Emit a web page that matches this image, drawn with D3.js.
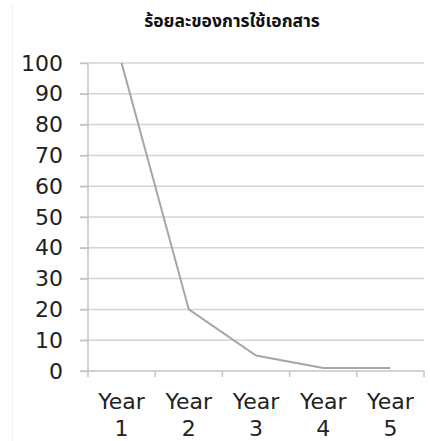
<!DOCTYPE html>
<html>
<head>
<meta charset="utf-8">
<script src="https://cdn.jsdelivr.net/npm/d3@7"></script>
<style>
  body { margin: 0; background: #fff; }
  text { font-family: "DejaVu Sans", Verdana, sans-serif; fill: #222; }
</style>
</head>
<body>
<svg id="chart" width="430" height="441"></svg>
<script>
var title = "ร้อยละของการใช้เอกสาร";
var years = ["Year 1", "Year 2", "Year 3", "Year 4", "Year 5"];
var usage = [100, 20, 5, 1, 1];
var yTicks = [0, 10, 20, 30, 40, 50, 60, 70, 80, 90, 100];

var svg = d3.select("#chart"),
    margin = {top: 63, right: 6, bottom: 70, left: 88},
    width = +svg.attr("width") - margin.left - margin.right,
    height = +svg.attr("height") - margin.top - margin.bottom;

// faint outer border of the chart area
svg.append("line")
    .attr("x1", 12.5).attr("x2", 12.5)
    .attr("y1", 5).attr("y2", 441)
    .attr("stroke", "#f0f0f0");

var x = d3.scaleBand().domain(years).range([0, width]).padding(0),
    y = d3.scaleLinear().domain([0, 100]).range([height, 0]);

var g = svg.append("g")
    .attr("transform", "translate(" + margin.left + "," + margin.top + ")");

// gridlines (with the little tick stubs left of the axis)
g.append("g").selectAll("line")
    .data(yTicks.filter(function(d) { return d > 0; }))
    .enter().append("line")
    .attr("x1", -8).attr("x2", width)
    .attr("y1", function(d) { return y(d); })
    .attr("y2", function(d) { return y(d); })
    .attr("stroke", "#d4d4d4")
    .attr("stroke-width", 1.5);

// y axis
var yAxis = d3.axisLeft(y).tickValues(yTicks).tickSize(8).tickPadding(17);
var ya = g.append("g").attr("class", "axis axis--y").call(yAxis);
ya.select(".domain").remove();
ya.selectAll(".tick line").attr("stroke", "#c4c4c4").attr("stroke-width", 1.5);
ya.selectAll("text").style("font-size", "22px").attr("fill", "#222");
g.append("line")
    .attr("x1", 0).attr("x2", 0).attr("y1", 0).attr("y2", height)
    .attr("stroke", "#c4c4c4").attr("stroke-width", 1.5);

// x axis baseline + boundary ticks
g.append("line")
    .attr("x1", -8).attr("x2", width)
    .attr("y1", height).attr("y2", height)
    .attr("stroke", "#c4c4c4").attr("stroke-width", 1.5);
var bounds = years.map(function(d) { return x(d); }).concat([width]);
g.append("g").selectAll("line")
    .data(bounds)
    .enter().append("line")
    .attr("x1", function(d) { return d; }).attr("x2", function(d) { return d; })
    .attr("y1", height).attr("y2", height + 6)
    .attr("stroke", "#c4c4c4").attr("stroke-width", 1.5);

// x labels on two lines
var xl = g.append("g").selectAll("text")
    .data(years)
    .enter().append("text")
    .attr("text-anchor", "middle")
    .attr("transform", function(d) { return "translate(" + (x(d) + x.bandwidth() / 2) + "," + (height + 38) + ")"; })
    .style("font-size", "22px");
xl.append("tspan").attr("x", 0).attr("y", 0).text(function(d) { return d.split(" ")[0]; });
xl.append("tspan").attr("x", 0).attr("y", 27).text(function(d) { return d.split(" ")[1]; });

// line
var line = d3.line()
    .x(function(d, i) { return x(years[i]) + x.bandwidth() / 2; })
    .y(function(d) { return y(d); });

g.append("path")
    .datum(usage)
    .attr("class", "line")
    .attr("fill", "none")
    .attr("stroke", "#a6a6a6")
    .attr("stroke-width", 2)
    .attr("d", line);

// title
svg.append("text")
    .attr("x", 232).attr("y", 27)
    .attr("text-anchor", "middle")
    .style("font-family", "'Noto Sans Thai', 'Noto Sans', 'DejaVu Sans', sans-serif")
    .style("font-weight", "bold")
    .style("font-size", "17.5px")
    .style("fill", "#111")
    .text(title);
</script>
</body>
</html>
